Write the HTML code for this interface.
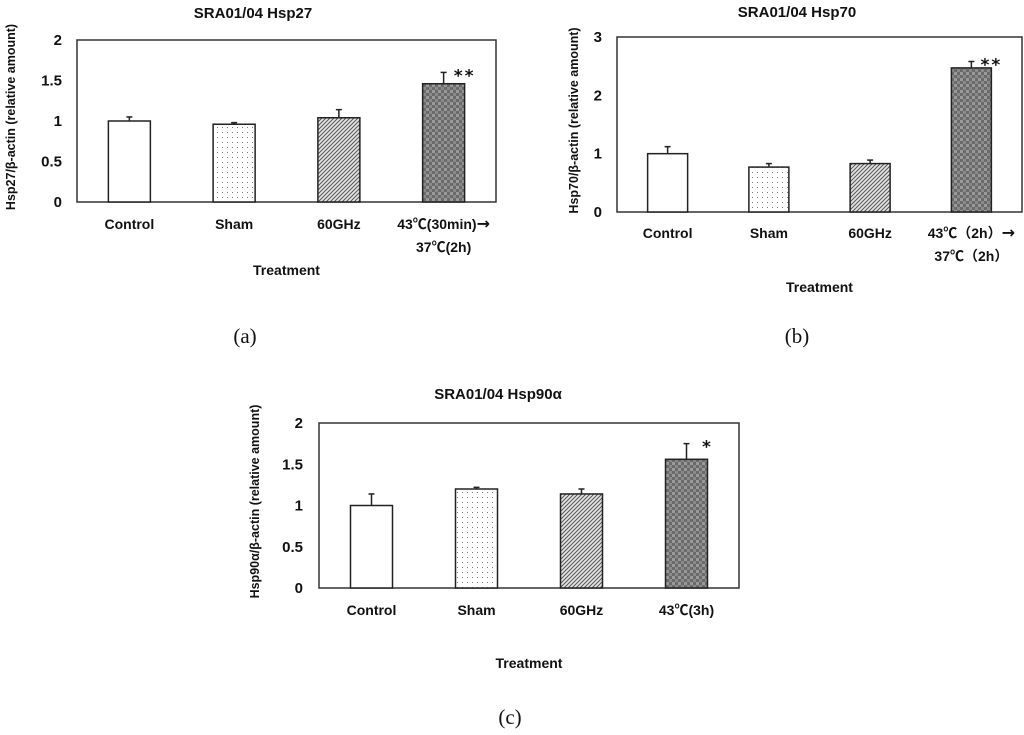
<!DOCTYPE html>
<html><head><meta charset="utf-8">
<style>
html,body{margin:0;padding:0;background:#fff;}
svg{display:block;font-family:"Liberation Sans","Noto Sans CJK JP",sans-serif;}
.b{font-weight:bold;fill:#111;}
</style></head>
<body>
<svg id="fig" width="1024" height="735" viewBox="0 0 1024 735">
<defs>
<pattern id="dots" width="5" height="5" patternUnits="userSpaceOnUse"><rect width="5" height="5" fill="#fff"/><rect x="2" y="2" width="1" height="1" fill="#777"/></pattern>
<pattern id="hatch" width="4" height="4" patternUnits="userSpaceOnUse"><rect width="4" height="4" fill="#e4e4e4"/><path d="M0,4 L4,0 M-1,1 L1,-1 M3,5 L5,3" stroke="#555" stroke-width="1"/></pattern>
<pattern id="check" width="6" height="6" patternUnits="userSpaceOnUse"><rect width="6" height="6" fill="#6a6a6a"/><rect width="3" height="3" fill="#9a9a9a"/><rect x="3" y="3" width="3" height="3" fill="#8a8a8a"/></pattern>
</defs>
</svg>
<script>
const cats = ["Control","Sham","60GHz","heat"];
const valsA = [1.0, 0.96, 1.04, 1.46];
const errA = [0.05, 0.02, 0.10, 0.14];
const valsB = [1.0, 0.77, 0.83, 2.47];
const errB = [0.12, 0.06, 0.06, 0.11];
const valsC = [1.0, 1.2, 1.14, 1.56];
const errC = [0.14, 0.02, 0.06, 0.19];
const ticksA = ["0","0.5","1","1.5","2"];
const ticksB = ["0","1","2","3"];
const ticksC = ["0","0.5","1","1.5","2"];
const fills = ["#fff","url(#dots)","url(#hatch)","url(#check)"];
const NS = "http://www.w3.org/2000/svg";
const svg = document.getElementById("fig");
function mk(tag, attrs, parent, text){
  const e = document.createElementNS(NS, tag);
  for (const k in attrs) e.setAttribute(k, attrs[k]);
  if (text !== undefined) e.textContent = text;
  (parent||svg).appendChild(e);
  return e;
}
function panel(p){
  const g = mk("g", {});
  
  
  const yS = v => p.y1 - (v / p.max) * (p.y1 - p.y0);
  const cw = (p.x1 - p.x0) / p.vals.length;
  const xC = i => p.x0 + cw * (i + 0.5);
  const box = mk("rect", {x:p.x0, y:p.y0, width:p.x1-p.x0, height:p.y1-p.y0, fill:"none", stroke:"#333", "stroke-width":1.5}, g);
  
  
  p.ticks.forEach(t => {
    const tx = mk("text", {x:p.tickX, y:yS(parseFloat(t))+5, "text-anchor":"end", class:"b", "font-size":15}, g, t);
    
    
  });
  p.vals.forEach((v, i) => {
    const x = xC(i) - p.bw/2;
    const top = yS(v + p.err[i]);
    const el = mk("line", {x1:xC(i), x2:xC(i), y1:yS(v), y2:top, stroke:"#222", "stroke-width":1.5}, g);
    
    
    const cap = mk("line", {x1:xC(i)-3, x2:xC(i)+3, y1:top, y2:top, stroke:"#222", "stroke-width":1.5}, g);
    
    
    const r = mk("rect", {x:x, y:yS(v), width:p.bw, height:p.y1 - yS(v), fill:fills[i], stroke:"#222", "stroke-width":1.5}, g);
    
    
    const lines = p.labels[i];
    lines.forEach((l, j) => {
      const t = mk("text", {x:xC(i), y:p.labY + j*23, "text-anchor":"middle", class:"b", "font-size":14}, g);
      
      
      const parts = l.split("→");
      mk("tspan", {}, t, parts[0]);
      if (parts.length > 1) mk("tspan", {"font-family":"DejaVu Sans, sans-serif", "font-size":16}, t, "→");
    });
  });
  const last = p.vals.length - 1;
  const st = mk("text", {x:xC(last)+p.bw/2, y:yS(p.vals[last]+p.err[last])+9, "text-anchor":"middle", class:"b", "font-size":17, "letter-spacing":"2", "font-family":"DejaVu Sans, sans-serif"}, g, p.star);
  
  
  const ti = mk("text", {x:p.titleX, y:p.titleY, "text-anchor":"middle", class:"b", "font-size":15}, g, p.title);
  
  
  const xt = mk("text", {x:(p.x0+p.x1)/2, y:p.xtY, "text-anchor":"middle", class:"b", "font-size":14}, g, "Treatment");
  
  
  const yt = mk("text", {x:0, y:0, "text-anchor":"middle", class:"b", "font-size":12.5, transform:`translate(${p.ytX},${(p.y0+p.y1)/2-4}) rotate(-90)`}, g, p.ytitle);
  
  
  const cp = mk("text", {x:p.capX, y:p.capY, "text-anchor":"middle", "font-size":21, fill:"#111", "font-family":"Liberation Serif, serif"}, g, p.cap);
  
  
}
panel({name:"panel-a", x0:77, x1:496, y0:40, y1:202, max:2, bw:42, vals:valsA, err:errA, ticks:ticksA, tickX:62,
  labels:[["Control"],["Sham"],["60GHz"],["43℃(30min)→","37℃(2h)"]], labY:229, star:"**",
  title:"SRA01/04 Hsp27", titleX:253, titleY:18, xtY:275, ytX:15, ytitle:"Hsp27/β-actin (relative amount)", cap:"(a)", capX:245, capY:343});
panel({name:"panel-b", x0:617, x1:1022, y0:37, y1:212, max:3, bw:40, vals:valsB, err:errB, ticks:ticksB, tickX:602,
  labels:[["Control"],["Sham"],["60GHz"],["43℃（2h）→","37℃（2h）"]], labY:238, star:"**",
  title:"SRA01/04 Hsp70", titleX:797, titleY:17, xtY:292, ytX:578, ytitle:"Hsp70/β-actin (relative amount)", cap:"(b)", capX:797, capY:343});
panel({name:"panel-c", x0:319, x1:739, y0:423, y1:588, max:2, bw:42, vals:valsC, err:errC, ticks:ticksC, tickX:303,
  labels:[["Control"],["Sham"],["60GHz"],["43℃(3h)"]], labY:615, star:"*",
  title:"SRA01/04 Hsp90α", titleX:498, titleY:399, xtY:668, ytX:259, ytitle:"Hsp90α/β-actin (relative amount)", cap:"(c)", capX:510, capY:724});
</script>
</body></html>
